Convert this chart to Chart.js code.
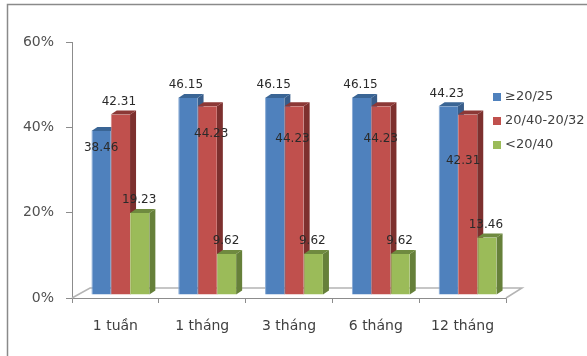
<!DOCTYPE html>
<html>
<head>
<meta charset="utf-8">
<style>
html, body { margin: 0; padding: 0; background: #fff; overflow: hidden; }
#wrap { width: 587px; height: 356px; position: relative; }
</style>
<script src="https://cdn.jsdelivr.net/npm/chart.js@4"></script>
</head>
<body>
<div id="wrap"><canvas id="chart" width="587" height="356"></canvas></div>
<script>
const categories = ['1 tuần', '1 tháng', '3 tháng', '6 tháng', '12 tháng'];
const good = [38.46, 46.15, 46.15, 46.15, 44.23];
const middle = [42.31, 44.23, 44.23, 44.23, 42.31];
const poor = [19.23, 9.62, 9.62, 9.62, 13.46];
const seriesNames = ['≥20/25', '20/40-20/32', '<20/40'];

// where each value label sits, relative to the top centre of its bar
const goodLabelOffset = [[0, 16.5], [-2, -13], [-1, -13], [-1, -13], [-1.5, -12.5]];
const middleLabelOffset = [[-1.5, -12.5], [4, 28], [-1.5, 33], [0, 33], [-4.5, 46]];
const poorLabelOffset = [[-0.5, -13], [-0.5, -13.5], [-1, -13.5], [-0.5, -13.5], [-1, -13]];

const labelFont = '12px "DejaVu Sans"';
const shiftX = 5, shiftY = -3;     // bars stand slightly back from the axes
const depthX = 6, depthY = 4;      // size of the 3D side faces

const sideColors = ['#385d8a', '#7d302e', '#66803a'];
const topColors = ['#3a6595', '#8c3836', '#6f8a3f'];

// side and top faces, drawn before the front faces go on
const faces3d = {
    id: 'faces3d',
    beforeDatasetsDraw(chart) {
        const ctx = chart.ctx;
        ctx.save();
        ctx.translate(shiftX, shiftY);
        chart.data.datasets.forEach((ds, i) => {
            chart.getDatasetMeta(i).data.forEach(bar => {
                const l = bar.x - bar.width / 2, r = bar.x + bar.width / 2;
                ctx.fillStyle = sideColors[i];
                ctx.beginPath();
                ctx.moveTo(r, bar.y);
                ctx.lineTo(r + depthX, bar.y - depthY);
                ctx.lineTo(r + depthX, bar.base - depthY);
                ctx.lineTo(r, bar.base);
                ctx.fill();
                ctx.fillStyle = topColors[i];
                ctx.beginPath();
                ctx.moveTo(l, bar.y);
                ctx.lineTo(l + depthX, bar.y - depthY);
                ctx.lineTo(r + depthX, bar.y - depthY);
                ctx.lineTo(r, bar.y);
                ctx.fill();
            });
        });
    },
    afterDatasetsDraw(chart) {
        const ctx = chart.ctx;
        ctx.restore();

        // value labels, written after every bar so they can overlap
        const offsets = [goodLabelOffset, middleLabelOffset, poorLabelOffset];
        ctx.save();
        ctx.font = labelFont;
        ctx.fillStyle = '#2a2a2a';
        ctx.textAlign = 'center';
        ctx.textBaseline = 'middle';
        chart.data.datasets.forEach((ds, i) => {
            chart.getDatasetMeta(i).data.forEach((bar, j) => {
                const off = offsets[i][j];
                ctx.fillText(String(ds.data[j]), bar.x + shiftX + off[0], bar.y + shiftY + off[1]);
            });
        });
        ctx.restore();
    }
};

// chart frame, the floor of the 3D box and the legend
const decorations = {
    id: 'decorations',
    beforeDatasetsDraw(chart) {
        const ctx = chart.ctx;
        const a = chart.chartArea;
        ctx.save();
        ctx.strokeStyle = '#b4b4b4';
        ctx.lineWidth = 1.5;
        ctx.beginPath();
        ctx.moveTo(a.left, a.bottom);
        ctx.lineTo(a.left + 18, a.bottom - 10);
        ctx.lineTo(a.right + 16, a.bottom - 10);
        ctx.lineTo(a.right, a.bottom);
        ctx.stroke();
        ctx.restore();
    },
    beforeDraw(chart) {
        const ctx = chart.ctx;
        ctx.save();
        ctx.strokeStyle = '#8a8a8a';
        ctx.lineWidth = 1.5;
        ctx.strokeRect(7.5, 4.5, 700, 500);
        ctx.restore();
    },
    afterDraw(chart) {
        const ctx = chart.ctx;
        ctx.save();
        ctx.font = '13px "DejaVu Sans"';
        ctx.textBaseline = 'middle';
        ctx.textAlign = 'left';
        chart.data.datasets.forEach((ds, i) => {
            const y = 97 + i * 24;
            ctx.fillStyle = ds.backgroundColor;
            ctx.fillRect(493, y - 4, 8, 8);
            ctx.fillStyle = '#404040';
            ctx.fillText(ds.label, 505, y);
        });
        ctx.restore();
    }
};

new Chart(document.getElementById('chart').getContext('2d'), {
    type: 'bar',
    data: {
        labels: categories,
        datasets: [
            { label: seriesNames[0], data: good, backgroundColor: '#4f81bd', borderColor: '#86a9d4', borderWidth: { left: 1, bottom: 1 } },
            { label: seriesNames[1], data: middle, backgroundColor: '#c0504d', borderColor: '#d68583', borderWidth: { left: 1, bottom: 1 } },
            { label: seriesNames[2], data: poor, backgroundColor: '#9bbb59', borderColor: '#bdd48c', borderWidth: { left: 1, bottom: 1 } }
        ]
    },
    options: {
        responsive: false,
        animation: false,
        layout: { padding: { top: 42, right: 81 } },
        categoryPercentage: 0.667,
        barPercentage: 1,
        plugins: { legend: { display: false }, title: { display: false }, tooltip: { enabled: false } },
        scales: {
            x: {
                afterFit(scale) { scale.height = 58; },
                grid: { drawOnChartArea: false, offset: true, tickLength: 5, color: '#8c8c8c' },
                border: { color: '#8c8c8c' },
                ticks: { color: '#404040', font: { family: 'DejaVu Sans', size: 14 }, padding: 15, maxRotation: 0 }
            },
            y: {
                min: 0,
                max: 60,
                afterFit(scale) { scale.width = 72; },
                grid: { drawOnChartArea: false, tickLength: 6, color: '#8c8c8c' },
                border: { color: '#8c8c8c' },
                ticks: {
                    stepSize: 20,
                    color: '#505050',
                    padding: 12,
                    font: { family: 'DejaVu Sans', size: 14 },
                    callback: v => v + '%'
                }
            }
        }
    },
    plugins: [decorations, faces3d]
});
</script>
</body>
</html>
